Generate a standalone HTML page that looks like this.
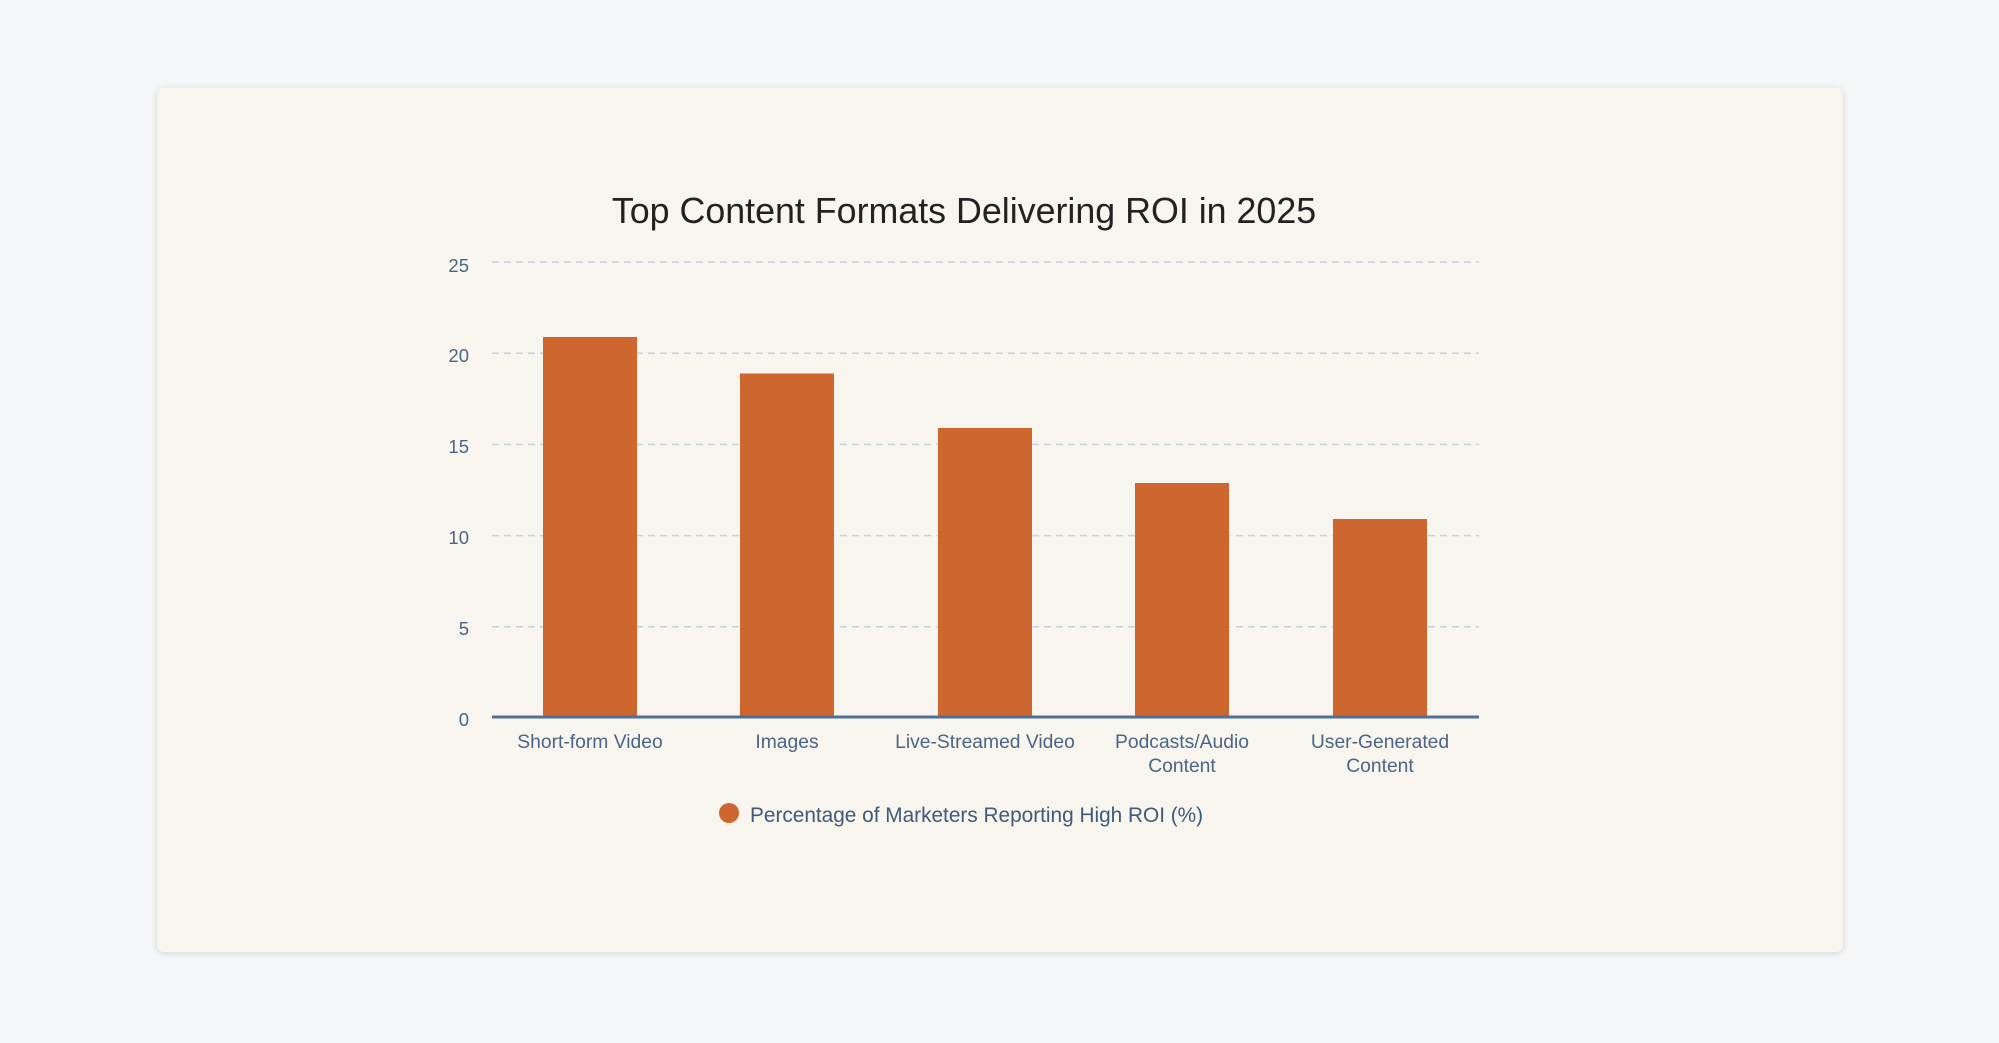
<!DOCTYPE html>
<html><head><meta charset="utf-8"><style>
html,body{margin:0;padding:0;background:#f5f6f8;}
</style></head><body>
<svg width="1999" height="1043" xmlns="http://www.w3.org/2000/svg" style="display:block">
<defs><filter id="s" x="-5%" y="-5%" width="110%" height="110%"><feDropShadow dx="0" dy="1" stdDeviation="3" flood-color="#000" flood-opacity="0.15"/></filter></defs>
<rect x="157" y="88" width="1686" height="864" rx="7" fill="#f8f4ee" filter="url(#s)"/>
<text x="964" y="223" text-anchor="middle" font-family="Liberation Sans, sans-serif" font-size="35.8" fill="#222">Top Content Formats Delivering ROI in 2025</text>
<g stroke="#c5d3de" stroke-width="1.5" stroke-dasharray="7,5">
<line x1="492" y1="262" x2="1479" y2="262"/>
<line x1="492" y1="353.2" x2="1479" y2="353.2"/>
<line x1="492" y1="444.4" x2="1479" y2="444.4"/>
<line x1="492" y1="535.6" x2="1479" y2="535.6"/>
<line x1="492" y1="626.8" x2="1479" y2="626.8"/>
</g>
<g font-family="Liberation Sans, sans-serif" font-size="18.5" fill="#4a6585" text-anchor="end">
<text x="469" y="272">25</text><text x="469" y="362">20</text><text x="469" y="453">15</text><text x="469" y="544">10</text><text x="469" y="635">5</text><text x="469" y="726">0</text>
</g>
<g fill="#cd662f">
<rect x="543" y="337" width="94" height="381"/>
<rect x="740" y="373.5" width="94" height="344.5"/>
<rect x="938" y="428" width="94" height="290"/>
<rect x="1135" y="483" width="94" height="235"/>
<rect x="1333" y="519" width="94" height="199"/>
</g>
<line x1="492" y1="717" x2="1479" y2="717" stroke="#4f6f95" stroke-width="3"/>
<g font-family="Liberation Sans, sans-serif" font-size="19.3" fill="#4a6585" text-anchor="middle">
<text x="590" y="748">Short-form Video</text>
<text x="787" y="748">Images</text>
<text x="985" y="748">Live-Streamed Video</text>
<text x="1182" y="748">Podcasts/Audio</text><text x="1182" y="772">Content</text>
<text x="1380" y="748">User-Generated</text><text x="1380" y="772">Content</text>
</g>
<circle cx="729" cy="813" r="10" fill="#cd662f"/>
<text x="750" y="822" font-family="Liberation Sans, sans-serif" font-size="20.8" fill="#3f5a7a">Percentage of Marketers Reporting High ROI (%)</text>
</svg>
</body></html>
